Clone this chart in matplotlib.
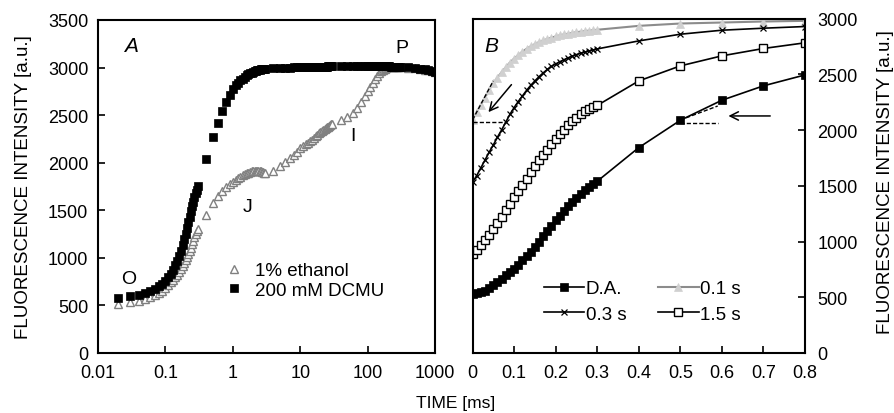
import numpy as np
import matplotlib
matplotlib.use("Agg")
import matplotlib.pyplot as plt
from matplotlib.ticker import NullLocator, FixedLocator

plt.rcParams['font.family'] = ['Liberation Sans', 'DejaVu Sans']

# ---------------- Panel A data (log time, ms) ----------------
t_a = np.concatenate([
    np.round(np.arange(0.02, 0.305, 0.01), 2),
    np.round(np.arange(0.4, 3.05, 0.1), 1),
    np.arange(4, 31, 1),
    np.arange(40, 301, 10),
    np.arange(400, 1001, 100),
]).astype(float)

ethanol = [
    512, 533, 548, 565, 585, 607, 630, 655, 683, 712, 742,
    770, 798, 825, 855, 885, 915, 945, 975, 1005, 1038, 1072, 1108, 1145, 1182, 1218, 1250, 1278, 1300,
    1446, 1573, 1650, 1702, 1740, 1772, 1797, 1818, 1836, 1852, 1866, 1878, 1888, 1897, 1904, 1910,
    1914, 1916, 1917, 1916, 1914, 1911, 1908, 1904, 1900, 1896, 1892,
    1913, 1965, 2010, 2050, 2085, 2115, 2150, 2172, 2192, 2210, 2226, 2241, 2262, 2280, 2296, 2310,
    2322, 2333, 2343, 2353, 2362, 2371, 2380, 2388, 2396, 2403, 2410,
    2450, 2480, 2520, 2575, 2640, 2700, 2755, 2800, 2842, 2878, 2910, 2938, 2960, 2978, 2990, 2998,
    3003, 3006, 3008, 3009, 3010, 3010, 3010, 3009, 3008, 3007, 3006,
    3000, 2993, 2986, 2979, 2971, 2963, 2956,
]

dcmu = [
    575, 596, 610, 628, 648, 672, 700, 730, 762, 797, 835, 877, 922, 970, 1022, 1077, 1135, 1195,
    1255, 1315, 1375, 1432, 1488, 1540, 1590, 1637, 1680, 1718, 1752,
    2040, 2271, 2422, 2540, 2640, 2715, 2780, 2812, 2840, 2865, 2885, 2902, 2917, 2929, 2940, 2948,
    2955, 2961, 2966, 2970, 2974, 2977, 2980, 2983, 2985, 2987, 2989,
    2993, 2996, 2998, 3000, 3001, 3002, 3003, 3004, 3005, 3006, 3006, 3007, 3008, 3008, 3009, 3009,
    3010, 3010, 3010, 3011, 3011, 3011, 3012, 3012, 3012, 3012, 3013,
    3013, 3014, 3014, 3015, 3015, 3015, 3015, 3015, 3015, 3015, 3015, 3014, 3014, 3014, 3013, 3013,
    3012, 3012, 3011, 3011, 3010, 3010, 3009, 3009, 3008, 3008, 3007,
    3001, 2994, 2987, 2980, 2972, 2964, 2957,
]

a_xticks = [0.01, 0.1, 1, 10, 100, 1000]
a_xticklabels = ['0.01', '0.1', '1', '10', '100', '1000']

# ---------------- Panel B data (linear time, ms) ----------------
t_b = np.concatenate([np.round(np.arange(0.0, 0.305, 0.01), 2),
                      np.round(np.arange(0.4, 0.85, 0.1), 1)])

da = [530, 535, 545, 560, 585, 614, 640, 668, 700, 725, 755, 790, 830, 870, 910, 955, 1000, 1045,
      1095, 1140, 1190, 1230, 1275, 1315, 1355, 1390, 1425, 1460, 1490, 1515, 1540,
      1842, 2087, 2267, 2396, 2494]
s01 = [2090, 2160, 2225, 2290, 2360, 2420, 2470, 2518, 2562, 2605, 2640, 2672, 2702, 2728, 2750,
       2770, 2788, 2803, 2816, 2828, 2839, 2849, 2857, 2864, 2871, 2877, 2882, 2887, 2891, 2895, 2899,
       2934, 2955, 2964, 2973, 2979]
s03 = [1530, 1590, 1660, 1730, 1800, 1865, 1935, 2000, 2070, 2140, 2200, 2255, 2305, 2355, 2400,
       2440, 2478, 2512, 2543, 2570, 2592, 2612, 2630, 2647, 2662, 2676, 2688, 2699, 2709, 2718, 2727,
       2799, 2859, 2895, 2913, 2928]
s15 = [885, 925, 965, 1010, 1060, 1110, 1165, 1220, 1280, 1338, 1395, 1452, 1510, 1565, 1622, 1677,
       1727, 1777, 1825, 1872, 1916, 1960, 2003, 2042, 2078, 2111, 2140, 2166, 2188, 2205, 2220,
       2440, 2575, 2665, 2731, 2782]

b_xticks = [0, 0.1, 0.2, 0.3, 0.4, 0.5, 0.6, 0.7, 0.8]
b_xticklabels = ['0', '0.1', '0.2', '0.3', '0.4', '0.5', '0.6', '0.7', '0.8']

# tangent / guide lines in panel B (x list, y list)
tan1_x, tan1_y = [0.0, 0.05], [2090, 2440]
hor1_x, hor1_y = [0.0, 0.08], [2075, 2075]
tan2_x, tan2_y = [0.5, 0.59], [2090, 2215]
hor2_x, hor2_y = [0.5, 0.59], [2065, 2065]

FS_TICK = 13
FS_LAB = 13.5
FS_XLAB = 12.5
FS_LEG = 13.5
FS_TXT = 14
MS = 5.6

fig = plt.figure(figsize=(8.94, 4.14), dpi=100)
W, H = 894, 414

def rect(l, t, r, b):
    return [l / W, 1 - b / H, (r - l) / W, (b - t) / H]

ax1 = fig.add_axes(rect(98, 21, 435, 354))
ax2 = fig.add_axes(rect(472.5, 19.5, 805, 354))

# ---- Panel A ----
ax1.plot(t_a, ethanol, linestyle='none', marker='^', markersize=6.0, mfc='white',
         mec='#808080', mew=1.0, label='1% ethanol')
ax1.plot(t_a, dcmu, linestyle='none', marker='s', markersize=MS, mfc='black',
         mec='black', mew=0.5, label='200 mM DCMU')
ax1.set_xscale('log')
ax1.set_xlim(0.01, 1000)
ax1.set_ylim(0, 3500)
ax1.xaxis.set_major_locator(FixedLocator(a_xticks))
ax1.xaxis.set_minor_locator(NullLocator())
ax1.set_xticklabels(a_xticklabels)
ax1.set_yticks(np.arange(0, 3501, 500))
ax1.tick_params(direction='in', length=5, width=1.2, labelsize=FS_TICK, pad=7)
ax1.tick_params(axis='x', pad=8)

ax1.text(0.0309, 3237, 'A', fontsize=FS_TXT + 1, style='italic', ha='center', va='center')
ax1.text(324, 3216, 'P', fontsize=FS_TXT, ha='center', va='center')
ax1.text(0.0288, 783, 'O', fontsize=FS_TXT, ha='center', va='center')
ax1.text(1.68, 1541, 'J', fontsize=FS_TXT, ha='center', va='center')
ax1.text(60.7, 2290, 'I', fontsize=FS_TXT, ha='center', va='center')

leg1 = ax1.legend(loc='upper left', bbox_to_anchor=(225 / W, 1 - 263 / H),
                  bbox_transform=fig.transFigure, frameon=False, fontsize=FS_LEG,
                  handlelength=1.0, handletextpad=0.6, labelspacing=0.12,
                  borderpad=0, borderaxespad=0, markerscale=1.0)

# ---- Panel B ----
ax2.plot(t_b, da, color='black', lw=1.2, marker='s', markersize=MS, mfc='black', mec='black',
         mew=0.5, label='D.A.')
ax2.plot(t_b, s01, color='#8c8c8c', lw=1.5, marker='^', markersize=6.0, mfc='#d0d0d0',
         mec='#d0d0d0', mew=0.5, label='0.1 s')
ax2.plot(t_b, s03, color='black', lw=1.2, marker='x', markersize=5.0, mew=0.9,
         mec='black', label='0.3 s')
ax2.plot(t_b, s15, color='black', lw=1.2, marker='s', markersize=MS, mfc='white', mec='black',
         mew=1.0, label='1.5 s')

for xs, ys in [(tan1_x, tan1_y), (hor1_x, hor1_y), (tan2_x, tan2_y), (hor2_x, hor2_y)]:
    ax2.plot(xs, ys, color='black', lw=1.0, linestyle=(0, (3, 1.5)))

ax2.annotate('', xy=(0.034, 2141), xytext=(0.098, 2426),
             arrowprops=dict(arrowstyle='->,head_length=0.6,head_width=0.3', color='black', lw=1.1))
ax2.annotate('', xy=(0.609, 2126), xytext=(0.723, 2126),
             arrowprops=dict(arrowstyle='->,head_length=0.6,head_width=0.3', color='black', lw=1.1))

ax2.set_xlim(0, 0.8)
ax2.set_ylim(0, 3000)
ax2.set_xticks(b_xticks)
ax2.set_xticklabels(b_xticklabels)
ax2.set_yticks(np.arange(0, 3001, 500))
ax2.yaxis.tick_right()
ax2.tick_params(direction='in', length=5, width=1.2, labelsize=FS_TICK)
ax2.tick_params(axis='x', pad=8)
ax2.tick_params(axis='y', pad=9)
ax2.text(0.0444, 2761, 'B', fontsize=FS_TXT + 1, style='italic', ha='center', va='center')

handles, labels = ax2.get_legend_handles_labels()
order = [0, 2, 1, 3]
leg2 = ax2.legend([handles[i] for i in order], [labels[i] for i in order], ncol=2,
                  loc='upper left', bbox_to_anchor=(544 / W, 1 - 281 / H),
                  bbox_transform=fig.transFigure, frameon=False, fontsize=FS_LEG,
                  handlelength=2.15, handletextpad=0.08, labelspacing=0.45,
                  columnspacing=1.7, borderpad=0, borderaxespad=0)

for ax in (ax1, ax2):
    for s in ax.spines.values():
        s.set_linewidth(1.5)

fig.text(23.5 / W, 1 - 187 / H, 'FLUORESCENCE INTENSITY [a.u.]', rotation=90,
         ha='center', va='center', fontsize=FS_LAB)
fig.text(885 / W, 1 - 182 / H, 'FLUORESCENCE INTENSITY [a.u.]', rotation=90,
         ha='center', va='center', fontsize=FS_LAB)
fig.text(456 / W, 1 - 404 / H, 'TIME [ms]', ha='center', va='center', fontsize=FS_XLAB)

fig.savefig('out.png', dpi=100)
